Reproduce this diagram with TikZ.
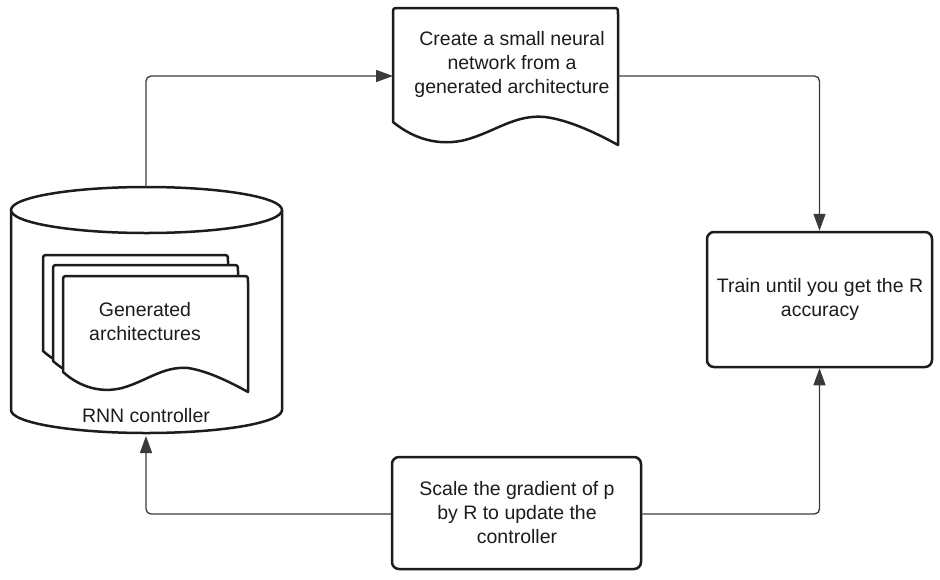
\documentclass[tikz,border=0pt]{standalone}
\usepackage{fontspec}
\setmainfont{Liberation Sans}
\usetikzlibrary{arrows.meta}
\definecolor{ink}{HTML}{1C1C1C}
\definecolor{wirec}{HTML}{3A3A3A}
\begin{document}
\begin{tikzpicture}[x=1pt,y=-1pt,
  outline/.style={draw=ink, line width=2.5pt, fill=white, line join=round},
  wire/.style={draw=wirec, line width=1.3pt, rounded corners=5pt, -{Triangle[length=17pt,width=12pt]}},
  txt/.style={align=center, text=ink, font=\fontsize{19.5}{24}\selectfont, inner sep=0pt},
  box/.style={outline, rounded corners=7pt, inner sep=0pt}]
\useasboundingbox (0,0) rectangle (940,579);

% RNN controller cylinder
\draw[outline] (11,210) -- (11,410) arc[start angle=180, end angle=360, x radius=135.5pt, y radius=23pt] -- (282,210);
\draw[outline] (146.5,210) ellipse [x radius=135.5pt, y radius=23pt];
\coordinate (rnntop) at (146,187);
\coordinate (rnnbot) at (146,436);

% stacked pages
\foreach \dx/\dy in {-20/-21,-10/-11,0/0}{
  \begin{scope}[shift={(\dx,\dy)}]
  \draw[outline] (63,372) -- (63,282) .. controls (63,276) .. (69,276) -- (242,276) .. controls (248,276) .. (248,282) -- (248,392)
    .. controls (233,383.6) and (208.5,371) .. (188,368) .. controls (163,366) and (147,381) .. (122,388)
    .. controls (101.6,393) and (81,388) .. (63,372) -- cycle;
  \end{scope}
}
\node[txt] (gen) at (145,322) {Generated\\architectures};
\node[txt] (rnn) at (146,416) {RNN controller};

% document at top
\draw[outline] (393,122) -- (393,14) .. controls (393,8) .. (399,8) -- (612,8) .. controls (618,8) .. (618,14) -- (618,145)
  .. controls (600,135) and (570,120) .. (545,117) .. controls (515,114) and (495,132) .. (465,140)
  .. controls (440,146) and (415,140) .. (393,122) -- cycle;
\node[txt] (create) at (512,64) {Create a small neural\\network from a\\generated architecture};
\coordinate (createw) at (393,76);
\coordinate (createe) at (618,76);

% boxes
\node[box, minimum width=225pt, minimum height=135pt] (train) at (819.5,299.5) {};
\node[txt] (traintxt) at (820,299.5) {Train until you get the R\\accuracy};
\node[box, minimum width=249pt, minimum height=112pt] (scale) at (516.5,513) {};
\node[txt] (scaletxt) at (517,513) {Scale the gradient of p\\by R to update the\\controller};

% connectors
\draw[wire] (rnntop) |- (createw);
\draw[wire] (createe) -| (train.north);
\draw[wire] ([yshift=-1pt]scale.east) -| (train.south);
\draw[wire] ([yshift=-1pt]scale.west) -| (rnnbot);
\end{tikzpicture}
\end{document}
